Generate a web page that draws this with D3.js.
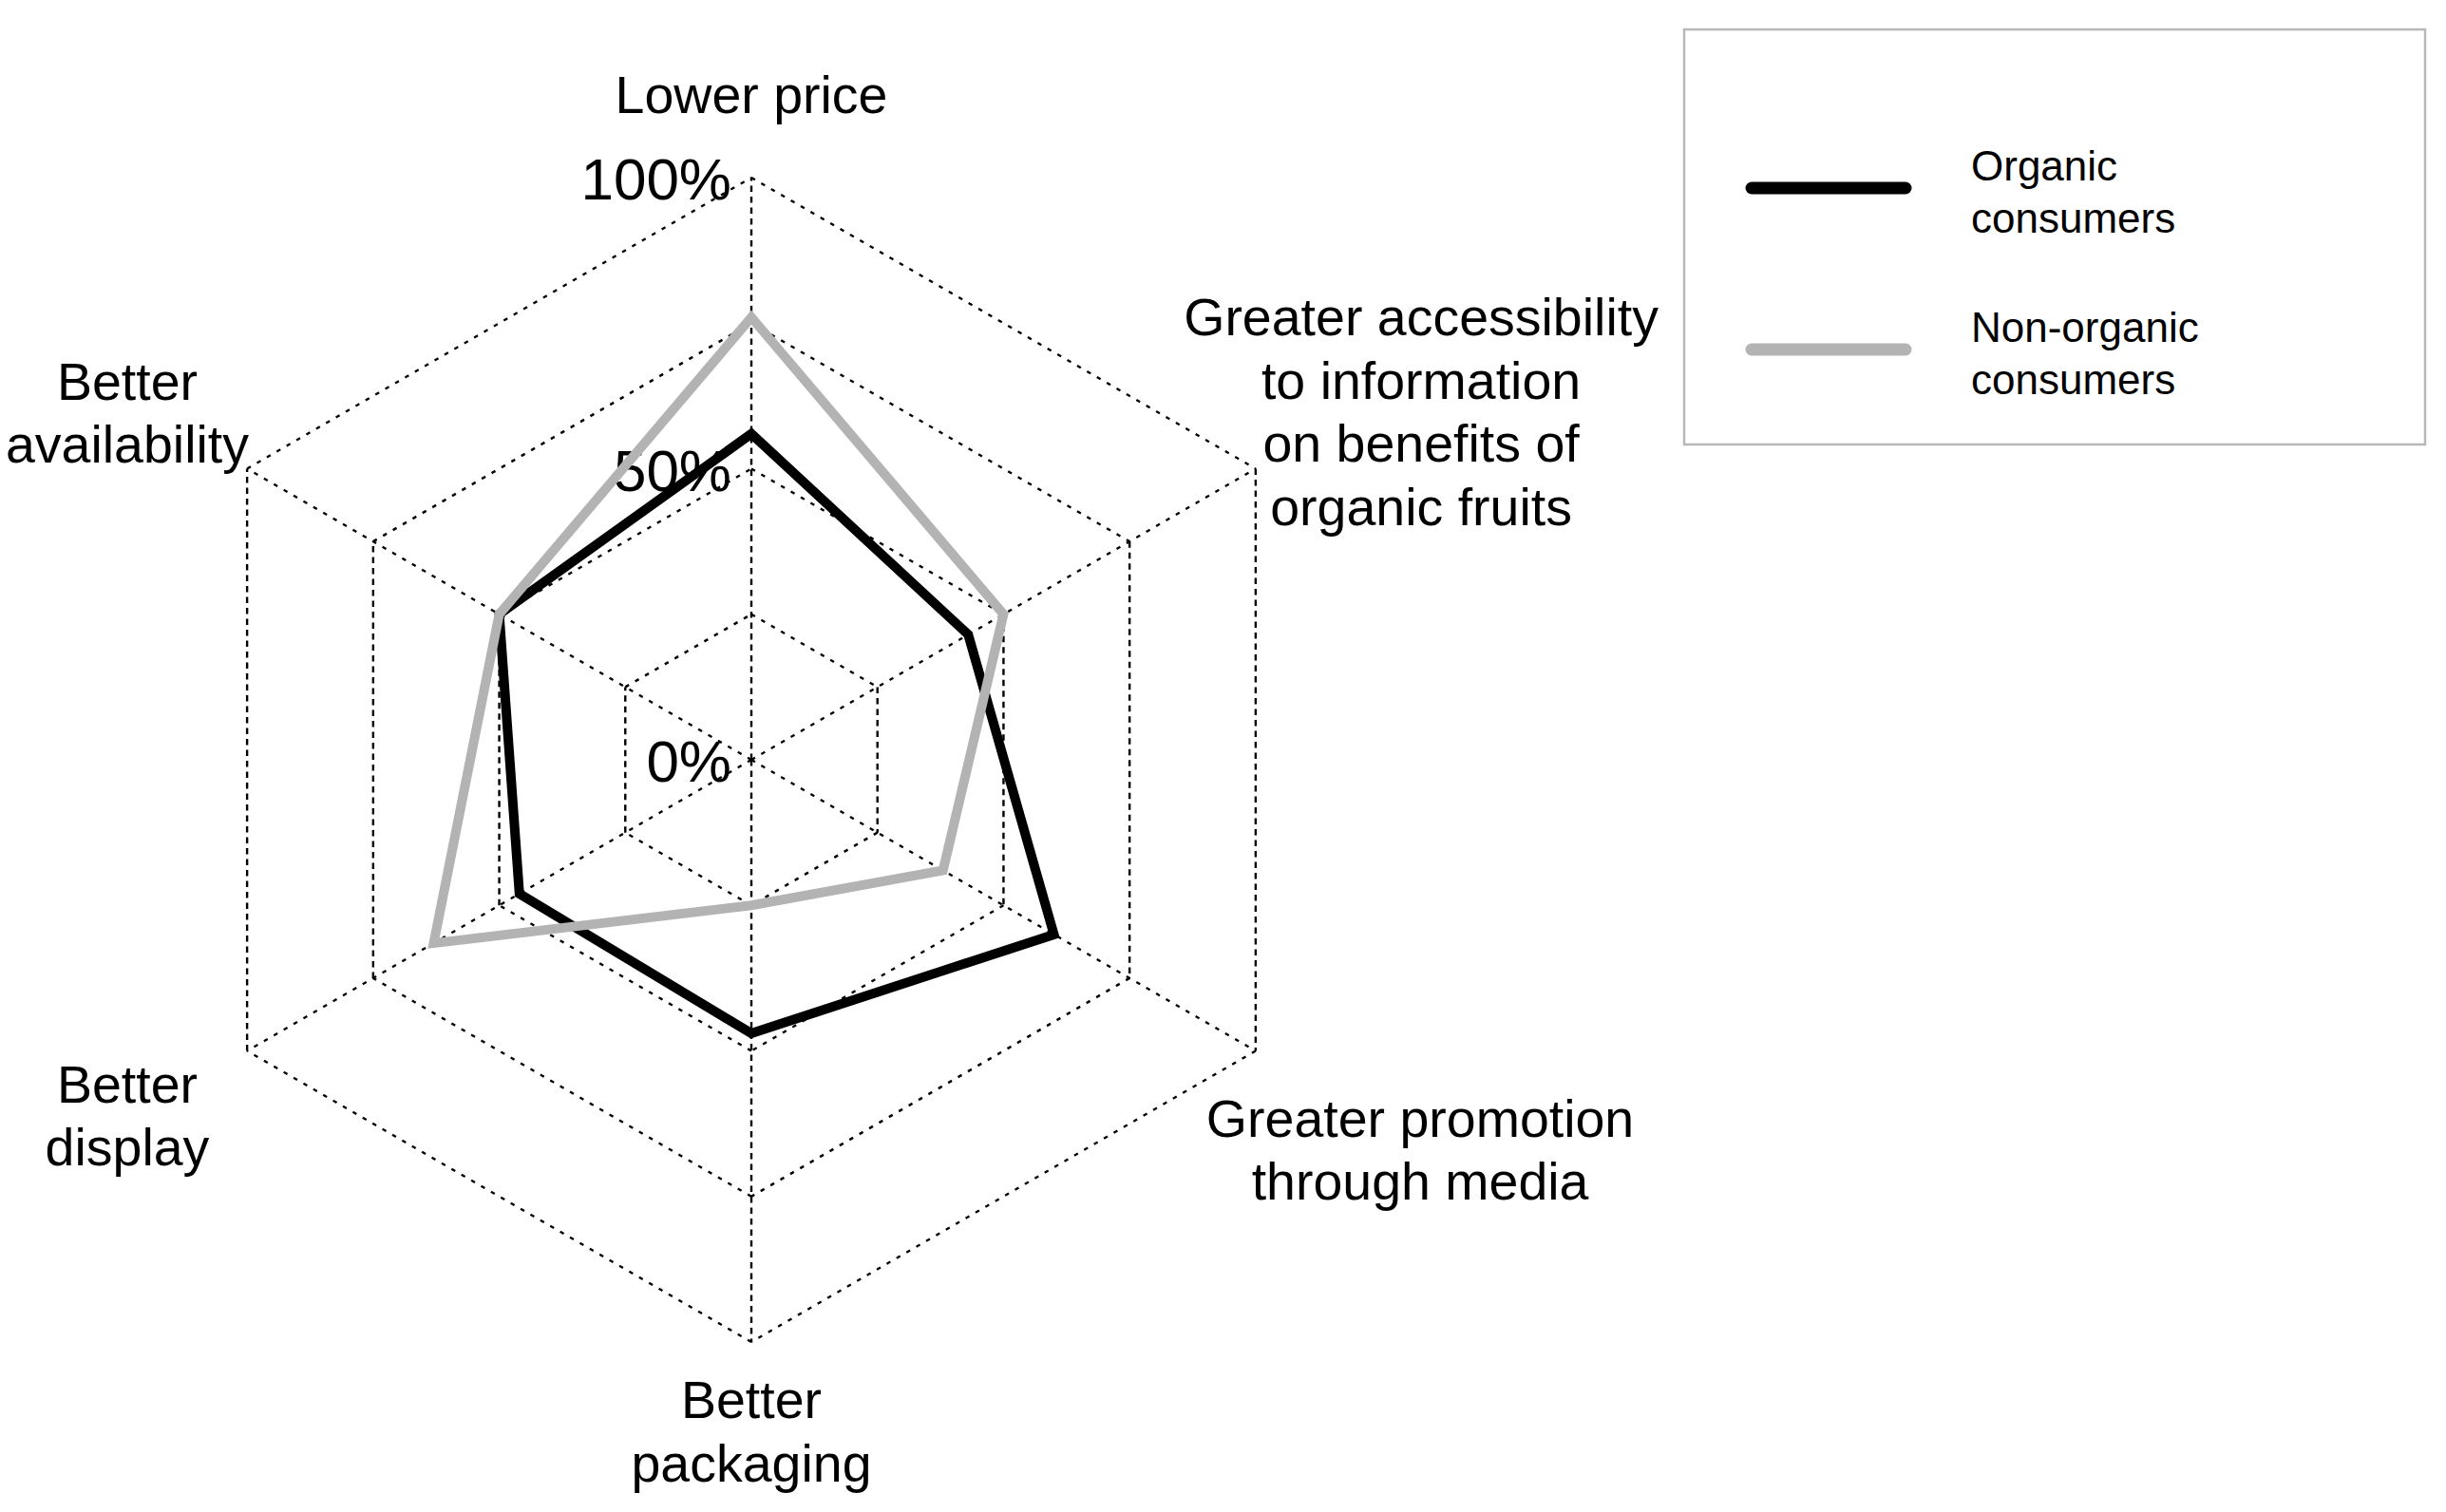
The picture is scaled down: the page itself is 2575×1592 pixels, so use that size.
<!DOCTYPE html>
<html>
<head>
<meta charset="utf-8">
<script src="https://cdn.jsdelivr.net/npm/d3@7"></script>
<style>
  body { margin: 0; background: #fff; }
  text { font-family: "Liberation Sans", Arial, sans-serif; fill: #000; }
</style>
</head>
<body>
<div id="chart"></div>
<script>
// data
var axes = [
  ["Lower price"],
  ["Greater accessibility", "to information", "on benefits of", "organic fruits"],
  ["Greater promotion", "through media"],
  ["Better", "packaging"],
  ["Better", "display"],
  ["Better", "availability"]
]
var organic    = [56, 43, 60, 47, 46, 50]
var nonOrganic = [76, 50, 38, 25, 63, 50]
var levels = [25, 50, 75, 100]
var tickValues = [0, 50, 100]
var tickLabels = ["0%", "50%", "100%"]
var seriesNames = [["Organic", "consumers"], ["Non-organic", "consumers"]]

// layout
var width = 2575, height = 1592
var cx = 791, cy = 800, R = 613
var n = axes.length
// small shifts of the axis labels away from their default spot
var labelNudge = [[0, 35], [68, 1], [67, 42], [0, -29], [-20, 6], [-20, 2]]

var svg = d3.select("#chart").append("svg")
  .attr("width", width)
  .attr("height", height)

svg.append("rect").attr("width", width).attr("height", height).attr("fill", "#fff")

var r = d3.scaleLinear().domain([0, 100]).range([0, R])
var angle = d3.scaleLinear().domain([0, n]).range([0, 2 * Math.PI])

function pt(i, v) {
  var a = angle(i)
  return [r(v) * Math.sin(a), -r(v) * Math.cos(a)]
}

var g = svg.append("g").attr("transform", "translate(" + cx + "," + cy + ")")

// grid: rings + spokes, dotted
var segs = []
levels.forEach(function (l) {
  axes.forEach(function (a, i) { segs.push([pt(i, l), pt((i + 1) % n, l)]) })
})
axes.forEach(function (a, i) { segs.push([[0, 0], pt(i, 100)]) })

g.append("g").selectAll("line")
  .data(segs)
  .enter()
  .append("line")
  .attr("x1", function (d) { return d[0][0] })
  .attr("y1", function (d) { return d[0][1] })
  .attr("x2", function (d) { return d[1][0] })
  .attr("y2", function (d) { return d[1][1] })
  .attr("stroke", "#000")
  .attr("stroke-width", 2.4)
  .attr("stroke-dasharray", function (d) {
    return Math.abs(d[0][0] - d[1][0]) < 1 ? "6.5,5" : "4.5,7.5"
  })

// percent labels on the top axis
g.append("g").selectAll("text")
  .data(tickValues)
  .enter()
  .append("text")
  .attr("x", -21)
  .attr("y", function (d) { return -r(d) + 23 })
  .attr("text-anchor", "end")
  .attr("font-size", 62)
  .text(function (d, i) { return tickLabels[i] })

// axis labels
var lineH = 66.5
var lab = g.append("g").selectAll("text")
  .data(axes)
  .enter()
  .append("text")
  .attr("text-anchor", "middle")
  .attr("font-size", 55.5)
  .attr("transform", function (d, i) {
    var p = pt(i, 120)
    var x = p[0] + labelNudge[i][0]
    var y = p[1] + labelNudge[i][1] - (d.length - 1) * lineH / 2 + 20
    return "translate(" + x + "," + y + ")"
  })

lab.selectAll("tspan")
  .data(function (d) { return d })
  .enter()
  .append("tspan")
  .attr("x", 0)
  .attr("dy", function (d, j) { return j === 0 ? 0 : lineH })
  .text(function (d) { return d })

// series polygons
var radial = d3.lineRadial()
  .angle(function (d, i) { return angle(i) })
  .radius(function (d) { return r(d) })
  .curve(d3.curveLinearClosed)

var series = [
  {values: organic, color: "#000"},
  {values: nonOrganic, color: "#b3b3b3"}
]

g.append("g").selectAll("path")
  .data(series)
  .enter()
  .append("path")
  .attr("d", function (d) { return radial(d.values) })
  .attr("fill", "none")
  .attr("stroke", function (d) { return d.color })
  .attr("stroke-width", 10)
  .attr("stroke-linejoin", "miter")
  .attr("stroke-miterlimit", 10)

// legend
var legend = svg.append("g")
legend.append("rect")
  .attr("x", 1773).attr("y", 31)
  .attr("width", 780).attr("height", 437)
  .attr("fill", "none")
  .attr("stroke", "#b8b8b8")
  .attr("stroke-width", 2.5)

var item = legend.selectAll("g.item")
  .data(series)
  .enter()
  .append("g")
  .attr("class", "item")
  .attr("transform", function (d, i) { return "translate(0," + (198 + i * 170) + ")" })

item.append("line")
  .attr("x1", 1844).attr("x2", 2006)
  .attr("stroke", function (d) { return d.color })
  .attr("stroke-width", 13)
  .attr("stroke-linecap", "round")

item.append("text")
  .attr("font-size", 44)
  .attr("y", -8)
  .selectAll("tspan")
  .data(function (d, i) { return seriesNames[i] })
  .enter()
  .append("tspan")
  .attr("x", 2075)
  .attr("dy", function (d, j) { return j === 0 ? 0 : 55 })
  .text(function (d) { return d })
</script>
</body>
</html>
